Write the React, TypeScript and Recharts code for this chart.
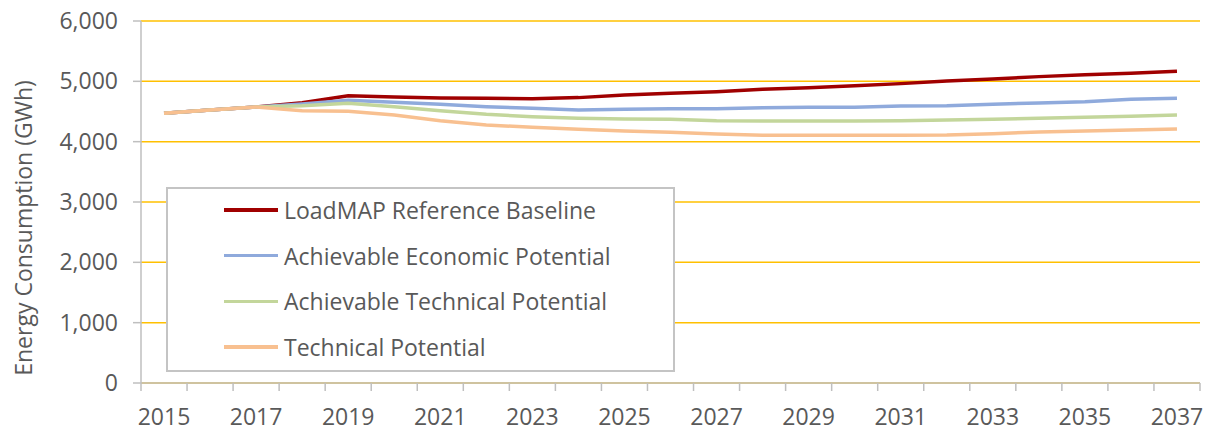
import React from 'react';
import { LineChart, Line, XAxis, YAxis, CartesianGrid, Legend, Label } from 'recharts';

// Annual energy consumption forecasts (GWh)
const years = [
  2015, 2016, 2017, 2018, 2019, 2020, 2021, 2022, 2023, 2024, 2025, 2026,
  2027, 2028, 2029, 2030, 2031, 2032, 2033, 2034, 2035, 2036, 2037,
];
const referenceBaseline = [
  4470, 4525, 4575, 4646, 4762, 4740, 4724, 4718, 4713, 4730, 4774, 4802,
  4829, 4868, 4895, 4928, 4962, 5005, 5039, 5078, 5111, 5133, 5166,
];
const achievableEconomic = [
  4470, 4525, 4575, 4624, 4686, 4653, 4620, 4580, 4553, 4525, 4536, 4547,
  4547, 4563, 4570, 4570, 4591, 4597, 4620, 4641, 4663, 4702, 4718,
];
const achievableTechnical = [
  4470, 4525, 4575, 4596, 4636, 4580, 4513, 4453, 4414, 4387, 4376, 4370,
  4348, 4343, 4343, 4343, 4345, 4360, 4370, 4387, 4404, 4420, 4442,
];
const technicalPotential = [
  4470, 4525, 4575, 4513, 4503, 4442, 4348, 4276, 4238, 4205, 4177, 4155,
  4127, 4105, 4105, 4105, 4105, 4110, 4133, 4160, 4177, 4194, 4210,
];
const yTicks = [0, 1000, 2000, 3000, 4000, 5000, 6000];

const seriesNames = [
  'LoadMAP Reference Baseline',
  'Achievable Economic Potential',
  'Achievable Technical Potential',
  'Technical Potential',
];

const data = years.map((year, i) => ({
  year,
  baseline: referenceBaseline[i],
  economic: achievableEconomic[i],
  achievableTech: achievableTechnical[i],
  technical: technicalPotential[i],
}));

// category boundaries (for tick marks) and centres (for labels)
const xTicks: number[] = [];
years.forEach((y) => {
  xTicks.push(y - 0.5, y);
});
xTicks.push(years[years.length - 1] + 0.5);

const TEXT = '#595959';
const AXIS = '#BFBFBF';
const GRID = '#FFC000';
const FONT = '"Open Sans", sans-serif';
const FONT_SIZE = 23;

const XTick = (props: any) => {
  const { x, y, payload } = props;
  const v = payload.value as number;
  if (!Number.isInteger(v)) {
    return <line x1={x} x2={x} y1={y - 26} y2={y - 18} stroke={AXIS} strokeWidth={1.5} />;
  }
  if ((v - years[0]) % 2 !== 0) return <g />;
  return (
    <text x={x} y={y} dy="0.71em" textAnchor="middle" fill={TEXT} fontSize={FONT_SIZE} fontFamily={FONT}>
      {v}
    </text>
  );
};

const LegendBox = (props: any) => {
  const items = [...(props.payload || [])].sort(
    (a: any, b: any) => seriesNames.indexOf(a.value) - seriesNames.indexOf(b.value),
  );
  return (
    <div
      style={{
        width: 509,
        height: 185,
        boxSizing: 'border-box',
        border: '2px solid #C4C4C4',
        background: '#fff',
        position: 'relative',
        fontFamily: FONT,
      }}
    >
      {items.map((item: any, i: number) => (
        <div
          key={item.value}
          style={{
            position: 'absolute',
            left: 56,
            top: 21 + i * 45.7 - 20,
            height: 40,
            display: 'flex',
            alignItems: 'center',
            whiteSpace: 'nowrap',
          }}
        >
          <span
            style={{
              display: 'inline-block',
              width: 54,
              height: 3.5,
              background: item.color,
              marginRight: 6,
            }}
          />
          <span style={{ fontSize: FONT_SIZE, color: TEXT, lineHeight: '40px' }}>{item.value}</span>
        </div>
      ))}
    </div>
  );
};

const YTitle = (props: any) => {
  const { viewBox } = props;
  const cx = viewBox.x + 23;
  const cy = viewBox.y + viewBox.height / 2 + 26;
  return (
    <text
      x={cx}
      y={cy}
      transform={`rotate(-90, ${cx}, ${cy})`}
      textAnchor="middle"
      dominantBaseline="central"
      fill={TEXT}
      fontSize={FONT_SIZE}
      fontFamily={FONT}
    >
      Energy Consumption (GWh)
    </text>
  );
};

export default function App() {
  return (
    <div style={{ position: 'absolute', left: 0, top: 0, width: 1213, height: 431, background: '#fff', fontFamily: FONT }}>
      <LineChart width={1213} height={431} data={data} margin={{ top: 21, right: 13, bottom: 0, left: 0 }}>
        <CartesianGrid horizontal vertical={false} stroke={GRID} strokeWidth={1.5} />
        <XAxis
          dataKey="year"
          type="number"
          domain={[years[0] - 0.5, years[years.length - 1] + 0.5]}
          ticks={xTicks}
          interval={0}
          height={48}
          tickLine={false}
          tickSize={8}
          tickMargin={18}
          axisLine={{ stroke: AXIS, strokeWidth: 1.5 }}
          tick={<XTick />}
        />
        <YAxis
          width={141}
          domain={[0, 6000]}
          ticks={yTicks}
          interval={0}
          tickSize={8}
          tickMargin={15}
          tickLine={{ stroke: AXIS, strokeWidth: 1.5 }}
          axisLine={{ stroke: AXIS, strokeWidth: 1.5 }}
          tick={{ fill: TEXT, fontSize: FONT_SIZE, fontFamily: FONT }}
          tickFormatter={(v: number) => v.toLocaleString('en-US')}
        >
          <Label content={<YTitle />} />
        </YAxis>
        <Legend
          layout="horizontal"
          verticalAlign="middle"
          align="center"
          content={<LegendBox />}
          wrapperStyle={{ left: 166, top: 187, width: 509, height: 185 }}
        />
        <Line type="linear" dataKey="baseline" name={seriesNames[0]} stroke="#A00000" strokeWidth={3.5} dot={false} isAnimationActive={false} />
        <Line type="linear" dataKey="economic" name={seriesNames[1]} stroke="#8FAADC" strokeWidth={3.5} dot={false} isAnimationActive={false} />
        <Line type="linear" dataKey="achievableTech" name={seriesNames[2]} stroke="#C3D69B" strokeWidth={3.5} dot={false} isAnimationActive={false} />
        <Line type="linear" dataKey="technical" name={seriesNames[3]} stroke="#F8C090" strokeWidth={3.5} dot={false} isAnimationActive={false} />
      </LineChart>
    </div>
  );
}
